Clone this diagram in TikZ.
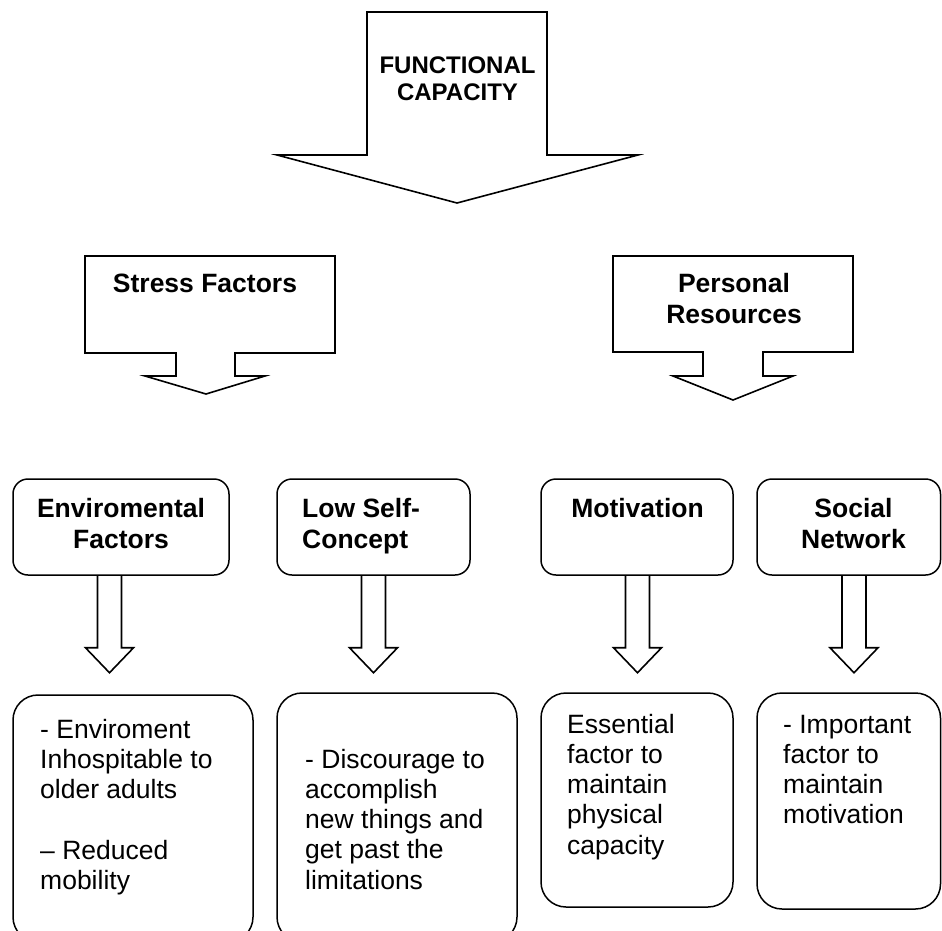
\documentclass[tikz,border=0pt]{standalone}
\usepackage{fontspec}
\setmainfont{Liberation Sans}
\usetikzlibrary{calc}
\begin{document}
\begin{tikzpicture}[x=1pt,y=-1pt,
  outline/.style={draw=black, line width=1.6pt, line join=miter},
  headbox/.style={draw=black, line width=1.5pt, rounded corners=15pt, inner sep=0pt, minimum height=96pt},
  notebox/.style={draw=black, line width=1.5pt, rounded corners=25pt, inner sep=0pt},
  boldtxt/.style={inner sep=0pt, align=center, anchor=north, font=\fontsize{26.5}{31}\selectfont\bfseries},
  notetxt/.style={inner sep=0pt, align=left, anchor=north west, font=\fontsize{26.5}{30.3}\selectfont},
]
\useasboundingbox (0,0) rectangle (942,930);

% main block arrow
\draw[outline] (367,12) -- (547,12) -- (547,155) -- (638,155) -- (457,203)
  -- (277,155) -- (367,155) -- cycle;
\node[boldtxt, font=\fontsize{24}{27}\selectfont\bfseries] (fc) at (457.5,54.1)
  {\strut FUNCTIONAL\\CAPACITY};

% callout arrows of the second level
\draw[outline] (85,256) -- (335,256) -- (335,353) -- (235,353) -- (235,376)
  -- (265,376) -- (206,394) -- (145,376) -- (176,376) -- (176,353) -- (85,353) -- cycle;
\node[boldtxt] (stress) at (205,270.65) {\strut Stress Factors};

\draw[outline] (613,256) -- (853,256) -- (853,352) -- (763,352) -- (763,376)
  -- (793,376) -- (733,400) -- (673,376) -- (703,376) -- (703,352) -- (613,352) -- cycle;
\node[boldtxt] (personal) at (734,270.65) {\strut Personal\\Resources};

% third level headings
\node[headbox, minimum width=216pt] (env) at (121,527) {};
\node[headbox, minimum width=193pt] (low) at (373.5,527) {};
\node[headbox, minimum width=192pt] (mot) at (637,527) {};
\node[headbox, minimum width=183.5pt] (soc) at (848.75,527) {};

\node[boldtxt] (envlbl) at (121,495.65) {\strut Enviromental\\Factors};
\node[boldtxt, anchor=north west, align=left] (lowlbl) at (302,495.65) {\strut Low Self-\\Concept};
\node[boldtxt] (motlbl) at (637.5,495.65) {\strut Motivation};
\node[boldtxt] (soclbl) at (853.5,495.65) {\strut Social\\Network};

% narrow block arrows
\newcommand{\downshaft}[2]{%
  \draw[outline] ([xshift=#2]#1.south) ++(-12,0) -- ++(0,72) -- ++(-12,0)
    -- ++(24,25) -- ++(24,-25) -- ++(-12,0) -- ++(0,-72);}
\downshaft{env}{-11.5pt}
\downshaft{low}{0pt}
\downshaft{mot}{0.5pt}
\downshaft{soc}{5.25pt}

% description boxes
\node[notebox, minimum width=240pt, minimum height=247pt] (envnote) at (133,818.5) {};
\node[notebox, minimum width=240pt, minimum height=249pt] (lownote) at (397,817.5) {};
\node[notebox, minimum width=192pt, minimum height=214pt] (motnote) at (637,800) {};
\node[notebox, minimum width=183.5pt, minimum height=216pt] (socnote) at (848.75,801) {};

\node[notetxt] (envtxt) at (40,716.65)
  {\strut - Enviroment\\Inhospitable to\\older adults\\[30.3pt]-- Reduced\\mobility};
\node[notetxt] (lowtxt) at (305,746.65)
  {\strut - Discourage to\\accomplish\\new things and\\get past the\\limitations};
\node[notetxt] (mottxt) at (567,711.65)
  {\strut Essential\\factor to\\maintain\\physical\\capacity};
\node[notetxt] (soctxt) at (783,711.65)
  {\strut - Important\\factor to\\maintain\\motivation};
\end{tikzpicture}
\end{document}
